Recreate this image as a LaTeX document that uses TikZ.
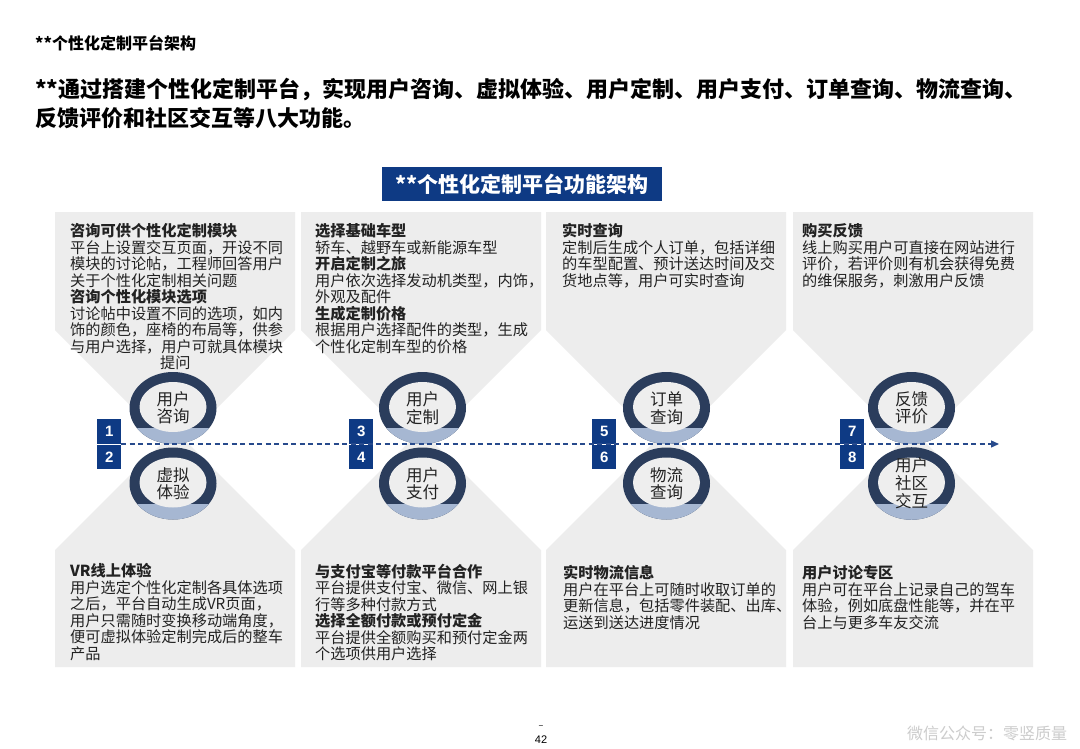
\documentclass[tikz,border=0pt]{standalone}
\usepackage{fontspec}
\setmainfont{Noto Sans CJK SC}
\newfontfamily\numfont{Liberation Sans}
\usetikzlibrary{shapes.geometric,arrows.meta}
\definecolor{panelgray}{HTML}{EDEDED}
\definecolor{navy}{HTML}{0E3A84}
\definecolor{linenavy}{HTML}{274A8C}
\definecolor{ringnavy}{HTML}{2B3D5C}
\definecolor{ringlight}{HTML}{A6B7D2}
\definecolor{innergray}{HTML}{EEEEEE}
\definecolor{txt}{HTML}{222222}
\definecolor{wm}{HTML}{CCCCCC}
\tikzset{
  panel/.style={fill=panelgray, draw=none},
  body/.style={font=\fontsize{15.2}{16.5}\selectfont, align=left, anchor=north west, inner sep=0pt, text=txt},
  ring/.style={ellipse, minimum width=87pt, minimum height=72pt, inner sep=0pt, fill=ringnavy,
    align=center, font=\fontsize{16.5}{17.5}\selectfont, text=txt,
    path picture={
      \fill[ringlight] ([yshift=-20pt]path picture bounding box.center) ++(-50pt,0pt) rectangle ++(100pt,-30pt);
      \fill[innergray] ([yshift=1pt]path picture bounding box.center) ellipse [x radius=33.5pt, y radius=25pt];
    }},
  numbox/.style={fill=navy, text=white, minimum width=24pt, minimum height=24.5pt, inner sep=0pt,
    anchor=north west, font=\numfont\bfseries\fontsize{15}{15}\selectfont},
  flow/.style={draw=linenavy, line width=1.3pt, dash pattern=on 5pt off 3.5pt, -{Triangle[length=8pt,width=7pt]}},
  banner/.style={fill=navy, text=white, minimum width=280pt, minimum height=34pt, inner sep=0pt,
    font=\bfseries\fontsize{21}{21}\selectfont}
}
\begin{document}
\begin{tikzpicture}[x=1pt,y=-1pt]
\useasboundingbox[fill=white] (0,0) rectangle (1080,748);

% titles
\node[anchor=west, inner sep=0pt, font=\bfseries\fontsize{16}{16}\selectfont] (title) at (35,43) {**个性化定制平台架构};
\node[anchor=north west, inner sep=0pt, align=left, font=\bfseries\fontsize{22}{29}\selectfont] (heading) at (35,78.2)
  {**通过搭建个性化定制平台，实现用户咨询、虚拟体验、用户定制、用户支付、订单查询、物流查询、\\反馈评价和社区交互等八大功能。};
\node[banner] (banner) at (522,184) {**个性化定制平台功能架构};

% panels
\foreach \L in {55,301,546,793}{
  \pgfmathsetmacro{\R}{\L+240}
  \pgfmathsetmacro{\C}{\L+120}
  \fill[panel] (\L,212) -- (\R,212) -- (\R,330) -- (\C,450) -- (\L,330) -- cycle;
  \fill[panel] (\L,667) -- (\L,550) -- (\C,430) -- (\R,550) -- (\R,667) -- cycle;
}

% top texts
\node[body] (t1) at (70,223.5) {\textbf{咨询可供个性化定制模块}\\平台上设置交互页面，开设不同\\模块的讨论帖，工程师回答用户\\关于个性化定制相关问题\\\textbf{咨询个性化模块选项}\\讨论帖中设置不同的选项，如内\\饰的颜色，座椅的布局等，供参\\与用户选择，用户可就具体模块\\\hspace*{90pt}提问};
\node[body] (t2) at (315,223.5) {\textbf{选择基础车型}\\轿车、越野车或新能源车型\\\textbf{开启定制之旅}\\用户依次选择发动机类型，内饰，\\外观及配件\\\textbf{生成定制价格}\\根据用户选择配件的类型，生成\\个性化定制车型的价格};
\node[body] (t3) at (562,223.5) {\textbf{实时查询}\\定制后生成个人订单，包括详细\\的车型配置、预计送达时间及交\\货地点等，用户可实时查询};
\node[body] (t4) at (802,223.5) {\textbf{购买反馈}\\线上购买用户可直接在网站进行\\评价，若评价则有机会获得免费\\的维保服务，刺激用户反馈};

% bottom texts
\node[body] (b1) at (70,563.5) {\textbf{VR线上体验}\\用户选定个性化定制各具体选项\\之后，平台自动生成VR页面，\\用户只需随时变换移动端角度，\\便可虚拟体验定制完成后的整车\\产品};
\node[body] (b2) at (315,563.5) {\textbf{与支付宝等付款平台合作}\\平台提供支付宝、微信、网上银\\行等多种付款方式\\\textbf{选择全额付款或预付定金}\\平台提供全额购买和预付定金两\\个选项供用户选择};
\node[body] (b3) at (563,565.5) {\textbf{实时物流信息}\\用户在平台上可随时收取订单的\\更新信息，包括零件装配、出库、\\运送到送达进度情况};
\node[body] (b4) at (802,565.5) {\textbf{用户讨论专区}\\用户可在平台上记录自己的驾车\\体验，例如底盘性能等，并在平\\台上与更多车友交流};

% circles
\node[ring] (c1) at (173,408) {用户\\咨询};
\node[ring] (c2) at (173,483.5) {虚拟\\体验};
\node[ring] (c3) at (422.5,408) {用户\\定制};
\node[ring] (c4) at (422.5,483.5) {用户\\支付};
\node[ring] (c5) at (666.5,408) {订单\\查询};
\node[ring] (c6) at (666.5,483.5) {物流\\查询};
\node[ring] (c7) at (911.5,408) {反馈\\评价};
\node[ring, font=\fontsize{16.5}{18}\selectfont] (c8) at (911.5,483.5) {用户\\社区\\交互};

% number boxes
\node[numbox] (n1) at (97,419) {1};
\node[numbox] (n2) at (97,444.5) {2};
\node[numbox] (n3) at (349,419) {3};
\node[numbox] (n4) at (349,444.5) {4};
\node[numbox] (n5) at (592,419) {5};
\node[numbox] (n6) at (592,444.5) {6};
\node[numbox] (n7) at (840,419) {7};
\node[numbox] (n8) at (840,444.5) {8};

% flow line
\coordinate (ls) at (121,444);
\coordinate (le) at (999,444);
\draw[flow] (ls) -- (le);

% footer
\node[inner sep=0pt, font=\fontsize{9}{9}\selectfont] (dash) at (541,727) {–};
\node[inner sep=0pt, font=\numfont\fontsize{11}{11}\selectfont] (page) at (541,740) {42};
\node[inner sep=0pt, text=wm, font=\fontsize{16}{16}\selectfont] (wmark) at (987,733) {微信公众号：零竖质量};
\end{tikzpicture}
\end{document}
